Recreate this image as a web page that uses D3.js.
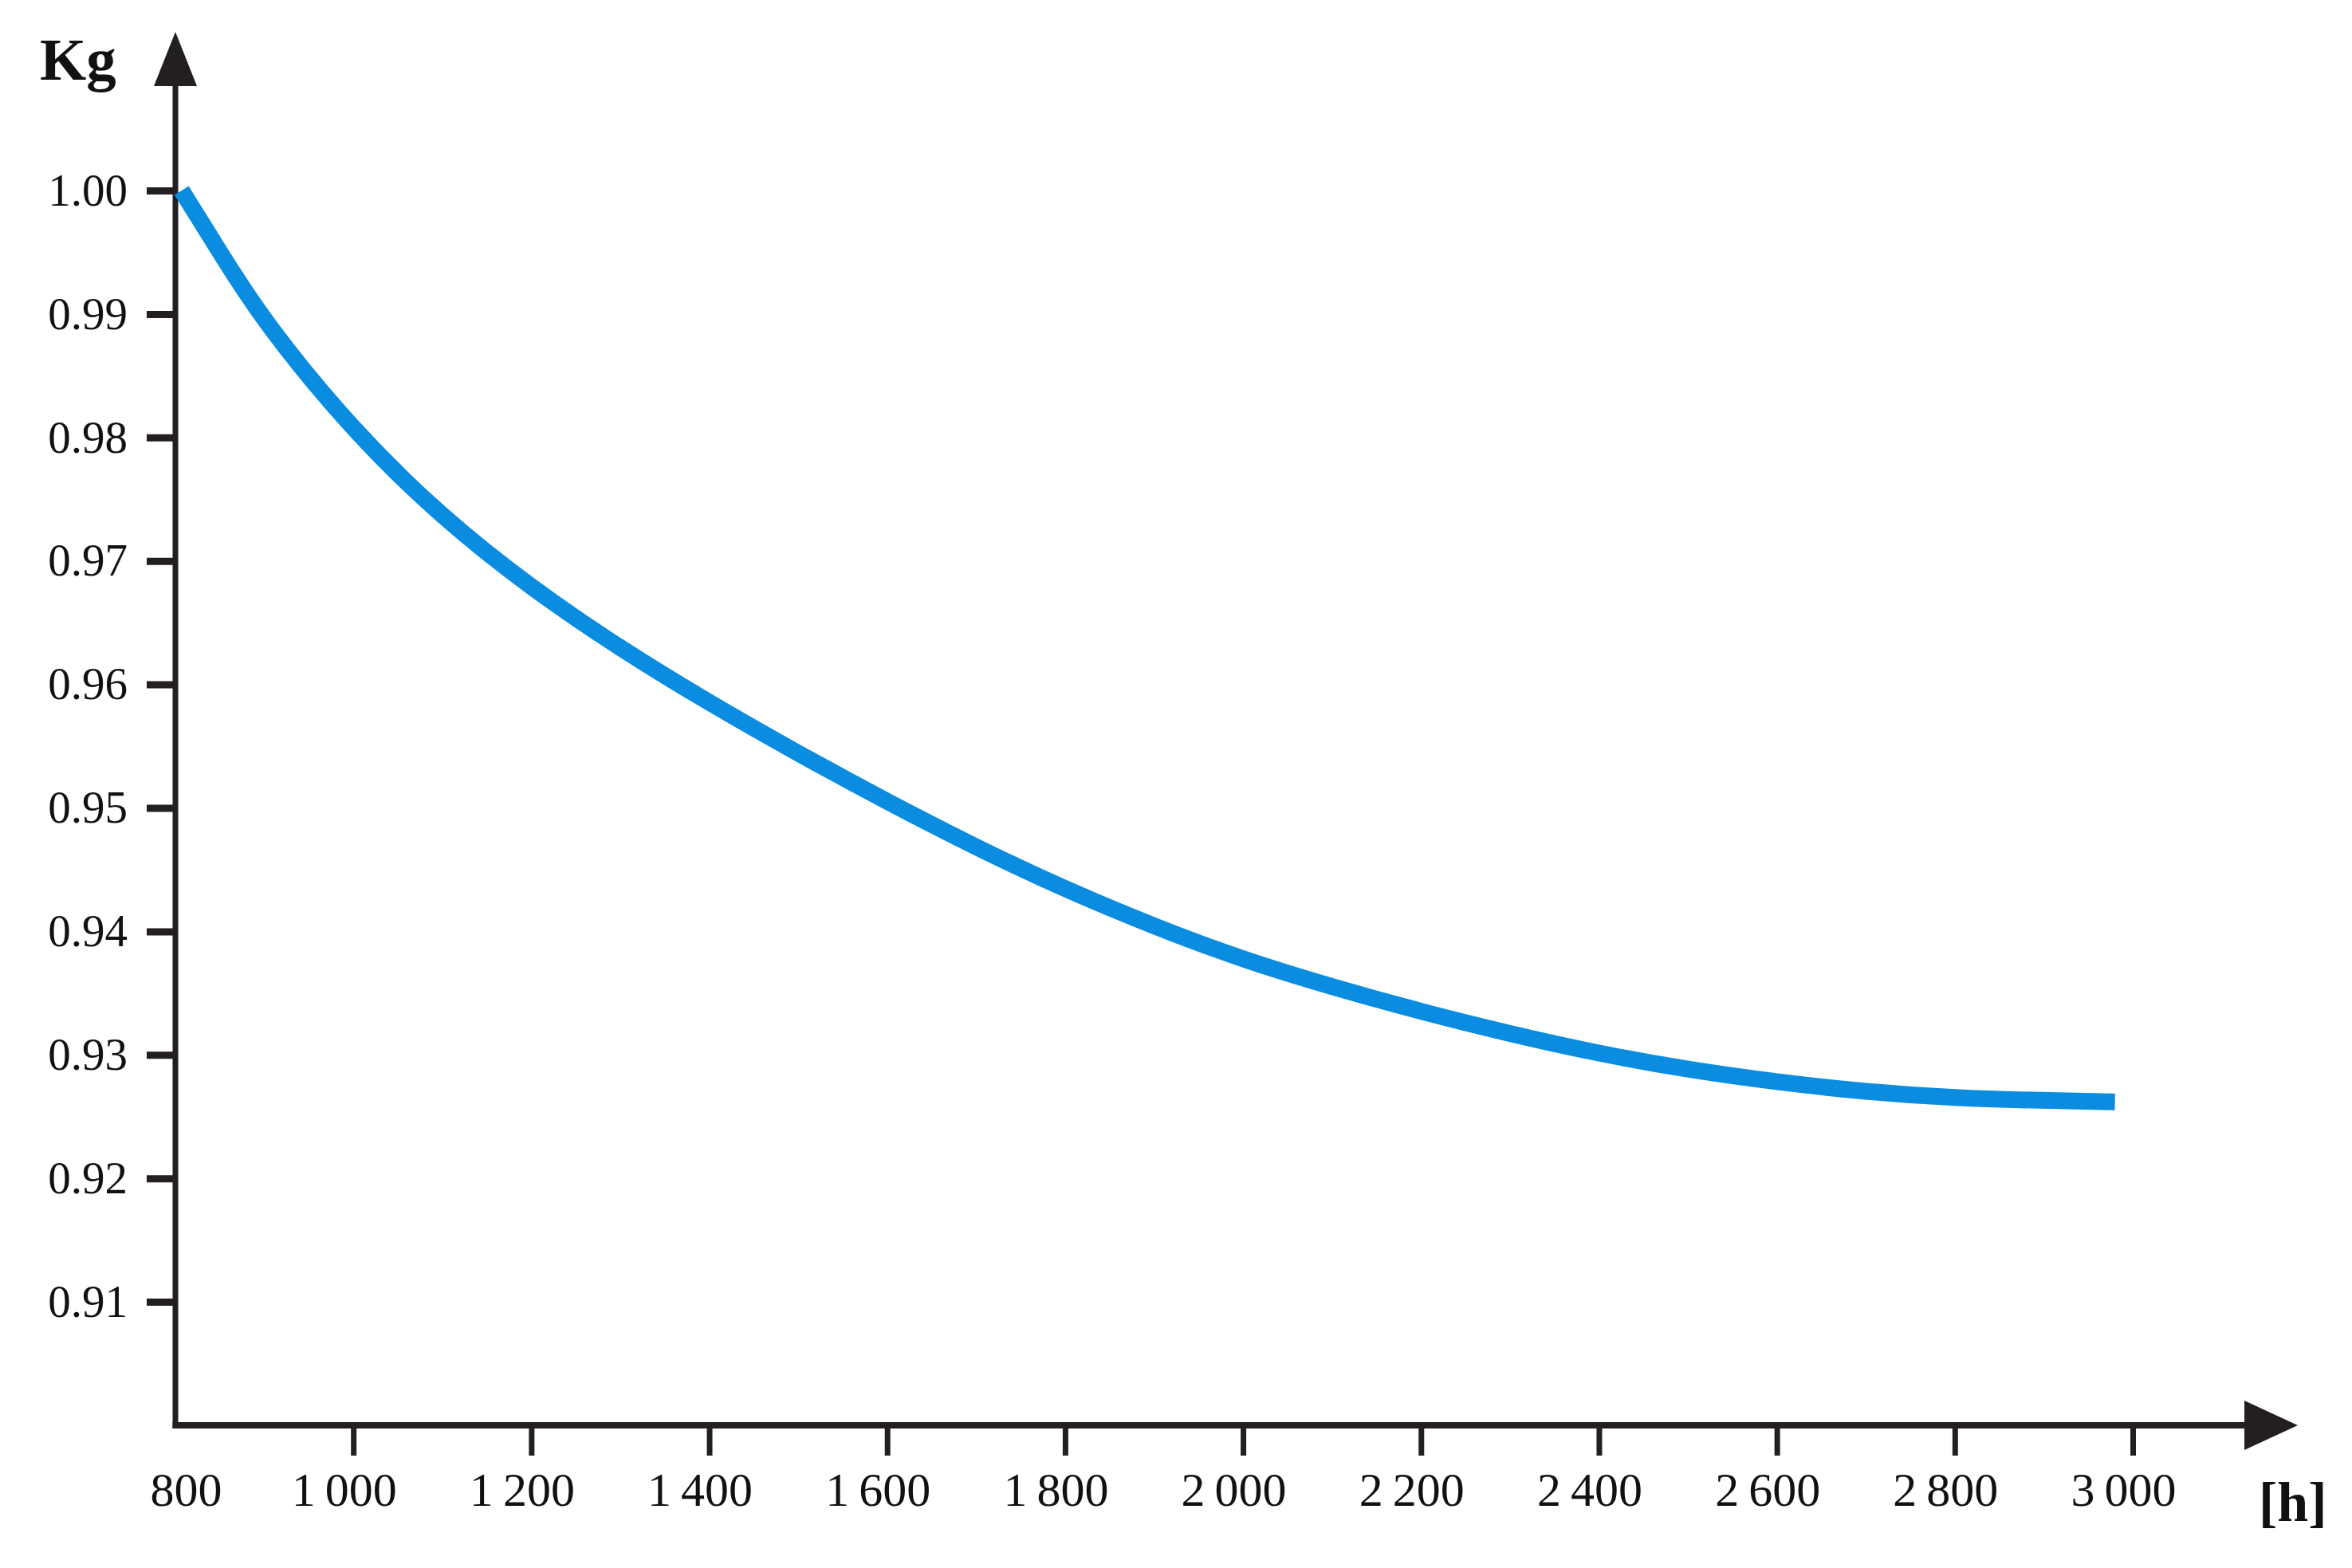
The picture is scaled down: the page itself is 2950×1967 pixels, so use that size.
<!DOCTYPE html>
<html>
<head>
<meta charset="utf-8">
<script src="https://cdn.jsdelivr.net/npm/d3@7"></script>
<style>
  body { margin: 0; background: #fff; }
  svg { display: block; }
</style>
</head>
<body>
<svg id="chart"></svg>
<script>
// Kg factor against operating hours
const hours = [807, 850, 900, 1000, 1100, 1200, 1300, 1400, 1500, 1600, 1700, 1800, 1900, 2000, 2100, 2200, 2300, 2400, 2500, 2600, 2700, 2800, 2900, 2980];
const kg = [1.0000, 0.9950, 0.9893, 0.9805, 0.9735, 0.9678, 0.9629, 0.9585, 0.9544, 0.9505, 0.9468, 0.9434, 0.9404, 0.9377, 0.9355, 0.9335, 0.9317, 0.9301, 0.9288, 0.9278, 0.9270, 0.9265, 0.9263, 0.9262];
const xTicks = [800, 1000, 1200, 1400, 1600, 1800, 2000, 2200, 2400, 2600, 2800, 3000];
const yTicks = [0.91, 0.92, 0.93, 0.94, 0.95, 0.96, 0.97, 0.98, 0.99, 1.00];

const width = 2950, height = 1967;
const axisColor = "#231f20";
const lineColor = "#0a8de0";
const font = "'Liberation Serif', 'DejaVu Serif', serif";

const svg = d3.select("#chart")
  .attr("width", width)
  .attr("height", height)
  .style("background", "#fff");

// Scales
const x = d3.scaleLinear().domain([800, 3000]).range([220, 2675]);
const y = d3.scaleLinear().domain([0.90, 1.00]).range([1788, 239]);

const x0 = x(800), y0 = y(0.90);

// Axis lines with arrow heads
svg.append("line")
  .attr("x1", x0).attr("y1", y0 + 4)
  .attr("x2", x0).attr("y2", 106)
  .attr("stroke", axisColor)
  .attr("stroke-width", 7);

svg.append("line")
  .attr("x1", x0 - 3.5).attr("y1", y0)
  .attr("x2", 2817).attr("y2", y0)
  .attr("stroke", axisColor)
  .attr("stroke-width", 8);

svg.append("path")
  .attr("d", `M${x0 - 27},108 L${x0},40 L${x0 + 27},108 Z`)
  .attr("fill", axisColor);

svg.append("path")
  .attr("d", `M2815,${y0 - 31} L2882,${y0} L2815,${y0 + 31} Z`)
  .attr("fill", axisColor);

// Y axis
const yAxis = d3.axisLeft(y)
  .tickValues(yTicks)
  .tickSize(36)
  .tickSizeOuter(0)
  .tickPadding(24)
  .tickFormat(d3.format(".2f"));

const yG = svg.append("g")
  .attr("transform", `translate(${x0},0)`)
  .call(yAxis);

yG.select(".domain").remove();
yG.selectAll(".tick line")
  .attr("stroke", axisColor)
  .attr("stroke-width", 9);
yG.selectAll(".tick text")
  .attr("fill", "#111")
  .style("font-family", font)
  .style("font-size", "57px");

// X axis
const fmtHours = d => d < 1000 ? String(d) : d3.format(",")(d).replace(",", "\u2009");

const xAxis = d3.axisBottom(x)
  .tickValues(xTicks)
  .tickSize(38)
  .tickSizeOuter(0)
  .tickPadding(20)
  .tickFormat(fmtHours);

const xG = svg.append("g")
  .attr("transform", `translate(0,${y0})`)
  .call(xAxis);

xG.select(".domain").remove();
xG.selectAll(".tick line")
  .attr("stroke", axisColor)
  .attr("stroke-width", 7)
  .filter(d => d === 800).remove();
xG.selectAll(".tick text")
  .attr("fill", "#111")
  .attr("dx", d => d === 800 ? 13 : -12)
  .style("font-family", font)
  .style("font-size", "60px");

// Curve
const line = d3.line()
  .x((d, i) => x(hours[i]))
  .y(d => y(d))
  .curve(d3.curveBasis);

svg.append("path")
  .datum(kg)
  .attr("d", line)
  .attr("fill", "none")
  .attr("stroke", lineColor)
  .attr("stroke-width", 21)
  .attr("stroke-linecap", "butt");

// Axis titles
svg.append("text")
  .attr("x", 50).attr("y", 100)
  .attr("fill", "#111")
  .style("font-family", font)
  .style("font-size", "75px")
  .style("font-weight", "bold")
  .text("Kg");

svg.append("text")
  .attr("x", 2833).attr("y", 1908)
  .attr("fill", "#111")
  .style("font-family", font)
  .style("font-size", "70px")
  .style("font-weight", "bold")
  .text("[h]");
</script>
</body>
</html>
